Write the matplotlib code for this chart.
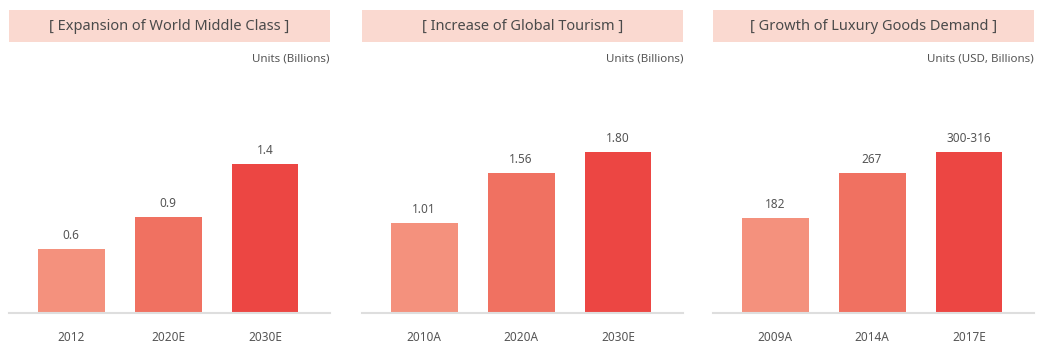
import matplotlib.pyplot as plt
from matplotlib.patches import Rectangle

plt.rcParams['font.family'] = ['Noto Sans', 'DejaVu Sans']

titles = ['[ Expansion of World Middle Class ]',
          '[ Increase of Global Tourism ]',
          '[ Growth of Luxury Goods Demand ]']
units = ['Units (Billions)', 'Units (Billions)', 'Units (USD, Billions)']

middle_years = ['2012', '2020E', '2030E']
middle_vals = [0.6, 0.9, 1.4]
middle_labels = ['0.6', '0.9', '1.4']

tourism_years = ['2010A', '2020A', '2030E']
tourism_vals = [1.01, 1.56, 1.80]
tourism_labels = ['1.01', '1.56', '1.80']

luxury_years = ['2009A', '2014A', '2017E']
luxury_vals = [182, 267, 308]
luxury_labels = ['182', '267', '300-316']

ytops = [2.0, 2.38, 407]

bar_colors = ['#F4917D', '#F07161', '#EC4643']
text_color = '#555555'

fig = plt.figure(figsize=(10.41, 3.47), dpi=100)

panels = [(middle_years, middle_vals, middle_labels),
          (tourism_years, tourism_vals, tourism_labels),
          (luxury_years, luxury_vals, luxury_labels)]
lefts = [9, 362, 713]
width_px = 321

for i, (years, vals, labels) in enumerate(panels):
    ax = fig.add_axes([lefts[i] / 1041, 1 - 313 / 347, width_px / 1041, 213 / 347])
    x = range(len(years))
    ax.bar(x, vals, width=0.69, color=bar_colors, zorder=2)
    ax.set_xlim(-0.64, 2.67)
    ax.set_ylim(0, ytops[i])
    for xi, v, lab in zip(x, vals, labels):
        ax.annotate(lab, (xi, v), xytext=(0, 5), textcoords='offset points',
                    ha='center', va='bottom', fontsize=8.5, color=text_color)
    ax.set_xticks(list(x))
    ax.set_xticklabels(years, fontsize=8.5, color=text_color)
    ax.tick_params(axis='x', length=0, pad=13)
    ax.set_yticks([])
    for s in ['top', 'right', 'left']:
        ax.spines[s].set_visible(False)
    ax.spines['bottom'].set_color('#DEDEDE')
    ax.spines['bottom'].set_linewidth(1.5)

    # title banner above each panel
    ax.add_patch(Rectangle((0, 1.272), 1, 0.15, transform=ax.transAxes,
                           facecolor='#FAD9D0', edgecolor='none', clip_on=False))
    ax.text(0.5, 1.347, titles[i], transform=ax.transAxes, ha='center', va='center',
            fontsize=10.5, color='#4a4a4a')
    ax.text(1.0, 1.192, units[i], transform=ax.transAxes, ha='right', va='center',
            fontsize=8.3, color=text_color)

fig.savefig('out.png', dpi=100)
